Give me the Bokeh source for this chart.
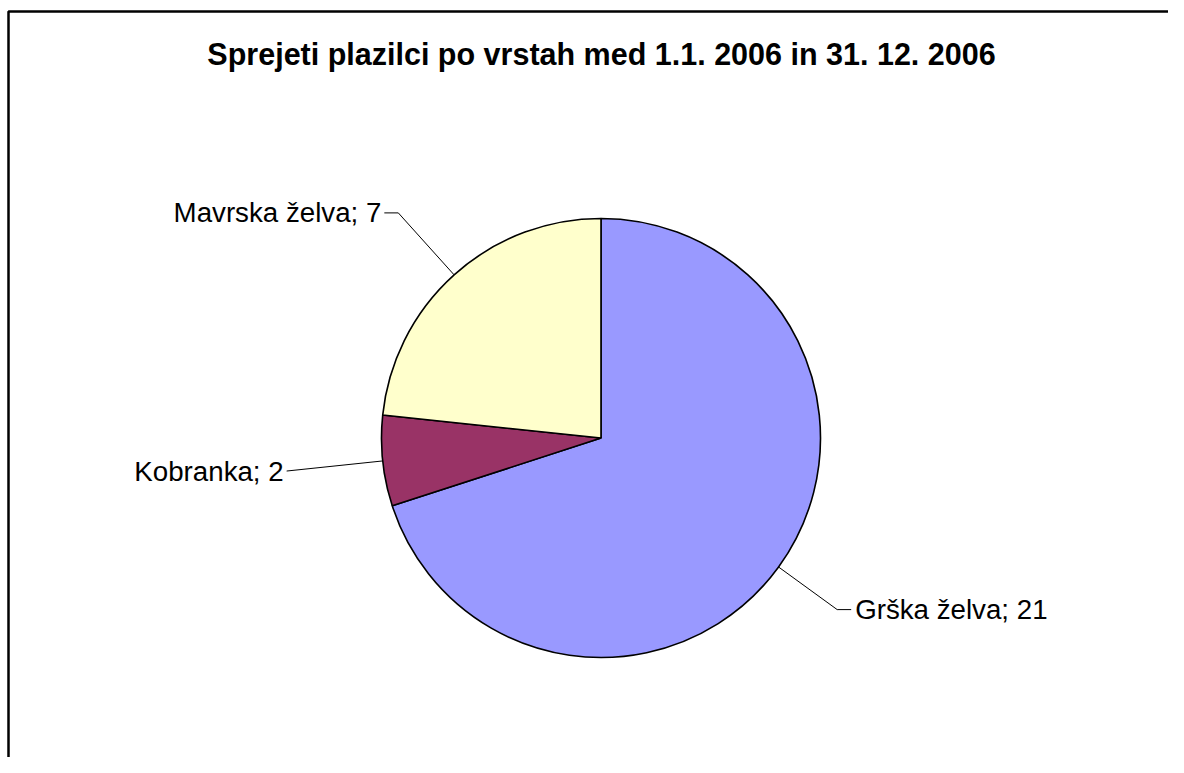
import math
from bokeh.plotting import figure
from bokeh.models import Range1d
from bokeh.core.properties import value
from bokeh.embed import file_html
from bokeh.resources import INLINE

# ---- data ----
title_text = "Sprejeti plazilci po vrstah med 1.1. 2006 in 31. 12. 2006"
categories = ["Grška želva", "Kobranka", "Mavrska želva"]
counts = [21, 2, 7]
colors = ["#9999FF", "#993366", "#FFFFCC"]

# ---- layout (screen pixels; data y = -screen y) ----
W, H = 1168, 757
cx, cy = 600.5, 437.5
R = 219.5
elbow_r = [1.33, 1.44, 1.38]     # elbow distance factor per slice
tick_len = [14, 0, 14]

p = figure(width=W, height=H, output_backend="svg", toolbar_location=None,
           x_range=Range1d(0, W), y_range=Range1d(-H, 0),
           min_border=0, outline_line_color=None)
p.axis.visible = False
p.grid.visible = False
p.background_fill_color = "white"
p.border_fill_color = "white"

# frame (left and top edges visible in the window)
p.line(x=[8, 8, 1180], y=[-780, -11, -11], line_color="black", line_width=2.5)

total = sum(counts)
starts, ends, mids = [], [], []
a = math.pi / 2
for c in counts:
    sweep = 2 * math.pi * c / total
    starts.append(a)
    ends.append(a - sweep)
    mids.append(a - sweep / 2)
    a -= sweep

p.wedge(x=[cx] * len(counts), y=[-cy] * len(counts), radius=R,
        start_angle=starts, end_angle=ends, direction="clock",
        fill_color=colors, line_color="black", line_width=1.6)

font = value("Liberation Sans")
for cat, n, m, er, tl in zip(categories, counts, mids, elbow_r, tick_len):
    ex, ey = cx + R * math.cos(m), cy - R * math.sin(m)
    bx, by = cx + R * er * math.cos(m), cy - R * er * math.sin(m)
    right = math.cos(m) > 0
    tx = bx + (tl if right else -tl)
    p.line(x=[ex, bx, tx], y=[-ey, -by, -by], line_color="black", line_width=1)
    label = f"{cat}; {n}"
    p.text(x=[tx + (4 if right else -3)], y=[-by], text=[label],
           text_font=font, text_font_size="27.7px", text_color="black",
           text_align="left" if right else "right", text_baseline="middle")

p.text(x=[601], y=[-53], text=[title_text], text_font=font,
       text_font_size="30.5px", text_font_style="bold", text_color="black",
       text_align="center", text_baseline="middle")

open("out.html", "w").write(file_html(p, INLINE))
